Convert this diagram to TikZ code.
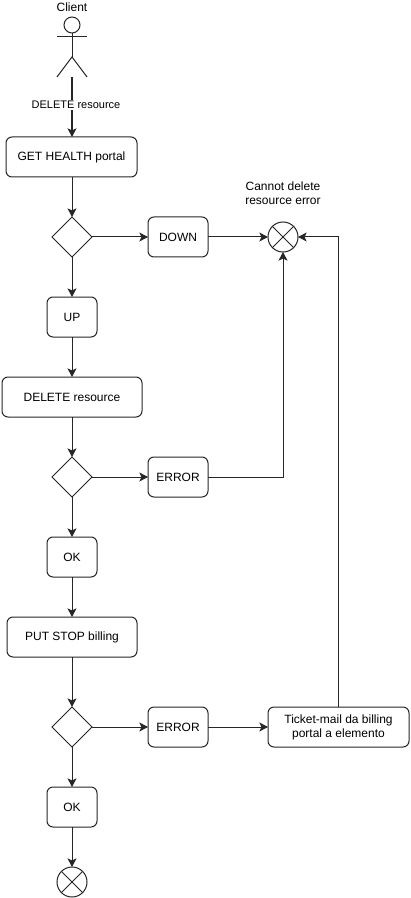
\documentclass[tikz,border=0pt]{standalone}
\usepackage{fontspec}
\setmainfont{Liberation Sans}
\usetikzlibrary{arrows.meta,shapes.geometric}
\tikzset{
  line/.style={line width=0.75pt,draw=black!85},
  flowbox/.style={line,rounded corners=4.5pt,fill=white,text=black,inner sep=0pt,outer sep=0pt,
    align=center,font=\fontsize{9}{10.5}\selectfont,minimum height=30pt,minimum width=#1*0.75pt},
  choice/.style={line,fill=white,shape=diamond,inner sep=0pt,outer sep=0pt,aspect=1,minimum size=30pt},
  endmark/.style={line,fill=white,circle,inner sep=0pt,outer sep=0pt,minimum size=22.5pt},
  caption/.style={text=black,inner sep=0pt,align=center,font=\fontsize{9}{10.5}\selectfont},
  conn/.style={line,-{Stealth[length=6.5pt,width=6.75pt,inset=1.6pt]}},
  plain/.style={line}
}
\begin{document}
\begin{tikzpicture}[x=0.75pt,y=-0.75pt]
\useasboundingbox (0,0) rectangle (410,898);
\fill[white] (0,0) rectangle (410,898);
% actor
\node[caption] (client) at (72,7.5) {Client};
\node[line,circle,inner sep=0pt,outer sep=0pt,minimum size=12pt] (head) at (72,25) {};
\coordinate (hip) at (72,57);
\coordinate (armL) at (57,37);
\coordinate (armR) at (87,37);
\coordinate (legL) at (57,77);
\coordinate (legR) at (87,77);
\coordinate (actor) at (72,77);
\draw[plain] (head.south) -- (hip);
\draw[plain] (armL) -- (armR);
\draw[plain] (legL) -- (hip) -- (legR);
% boxes
\node[flowbox=131] (get) at (71.5,157) {GET HEALTH portal};
\node[choice] (d1) at (72,237) {};
\node[flowbox=60] (down) at (178,237) {DOWN};
\node[endmark] (err) at (283,237) {};
\draw[plain] (err.north west) -- (err.south east);
\draw[plain] (err.north east) -- (err.south west);
\node[caption] (errlabel) at (283,193) {Cannot delete\\resource error};
\node[flowbox=50] (up) at (72,317) {UP};
\node[flowbox=140] (del) at (72,397) {DELETE resource};
\node[choice] (d2) at (72,477) {};
\node[flowbox=60] (err2) at (178,477) {ERROR};
\node[flowbox=50] (ok1) at (72,557) {OK};
\node[flowbox=130] (put) at (72,637) {PUT STOP billing};
\node[choice] (d3) at (72,727) {};
\node[flowbox=60] (err3) at (178,727) {ERROR};
\node[flowbox=141] (ticket) at (338.5,727) {Ticket-mail da billing\\portal a elemento};
\node[flowbox=50] (ok2) at (72,807) {OK};
\node[endmark] (fin) at (72,882) {};
\draw[plain] (fin.north west) -- (fin.south east);
\draw[plain] (fin.north east) -- (fin.south west);
% connectors
\draw[conn,line width=1pt] (actor) -- node[fill=white,text=black,inner sep=1pt,font=\fontsize{8.25}{10}\selectfont,pos=0.47,xshift=3pt] (lbl) {DELETE resource} (get.north -| actor);
\draw[conn] (get.south -| d1) -- (d1.north);
\draw[conn] (d1.east) -- (down.west);
\draw[conn] (down.east) -- (err.west);
\draw[conn] (d1.south) -- (up.north);
\draw[conn] (up.south) -- (del.north);
\draw[conn] (del.south) -- (d2.north);
\draw[conn] (d2.east) -- (err2.west);
\draw[conn] (err2.east) -| (err.south);
\draw[conn] (d2.south) -- (ok1.north);
\draw[conn] (ok1.south) -- (put.north);
\draw[conn] (put.south) -- (d3.north);
\draw[conn] (d3.east) -- (err3.west);
\draw[conn] (err3.east) -- (ticket.west);
\draw[conn] (ticket.north) |- (err.east);
\draw[conn] (d3.south) -- (ok2.north);
\draw[conn] (ok2.south) -- (fin.north);
\end{tikzpicture}
\end{document}
